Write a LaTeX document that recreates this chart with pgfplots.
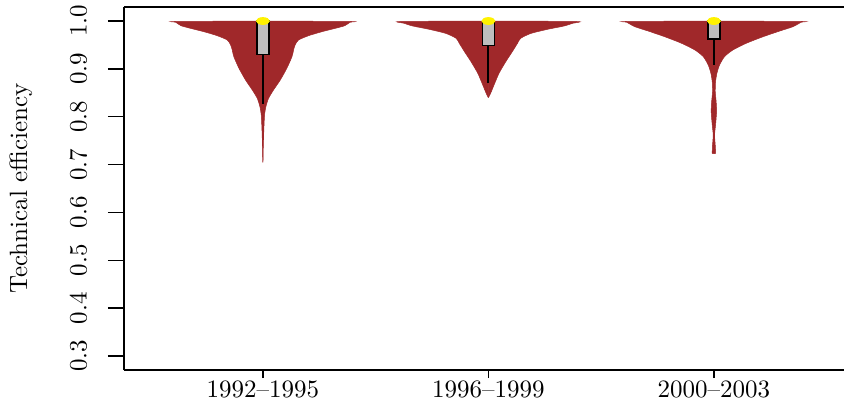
\documentclass[border=0pt]{standalone}
\usepackage{pgfplots}
\usepackage{pgfplotstable}
\pgfplotsset{compat=1.18}
\definecolor{vbrown}{RGB}{160,40,42}
\definecolor{boxgray}{RGB}{190,190,190}

% violin half-widths (in x units) as function of efficiency
\pgfplotstableread{
y hw
1.0000 0
0.9990 0.392
0.9973 0.386
0.9902 0.363
0.9847 0.321
0.9777 0.262
0.9694 0.203
0.9603 0.158
0.9499 0.143
0.9394 0.136
0.9255 0.129
0.9011 0.106
0.8767 0.077
0.8558 0.047
0.8384 0.025
0.8210 0.0133
0.8036 0.0074
0.7758 0.0044
0.7340 0.0015
0.7060 0.0003
0.7060 0
}\vA
\pgfplotstableread{
y hw
1.0000 0
0.9990 0.392
0.9952 0.373
0.9896 0.336
0.9826 0.262
0.9740 0.188
0.9638 0.143
0.9534 0.129
0.9359 0.106
0.9150 0.077
0.8907 0.047
0.8663 0.025
0.8490 0.010
0.8405 0.001
0.8405 0
}\vB
\pgfplotstableread{
y hw
1.0000 0
0.9990 0.392
0.9973 0.386
0.9880 0.350
0.9790 0.291
0.9670 0.217
0.9534 0.143
0.9394 0.084
0.9255 0.047
0.9080 0.025
0.8907 0.0133
0.8732 0.0074
0.8523 0.0060
0.8314 0.0100
0.8105 0.0120
0.7827 0.0074
0.7618 0.0030
0.7409 0.0060
0.7236 0.0074
0.7236 0
}\vC

\begin{document}
\begin{tikzpicture}
\pgfplotsset{
  common/.style={
    scale only axis,
    width=288pt, height=145.2pt,
    xmin=0.384, xmax=3.577,
    ymin=0.2707, ymax=1.0293,
    axis line style={line width=0.8pt},
    tick align=outside,
    tick style={line width=0.6pt, black},
  }
}
\begin{axis}[
  name=ax,
  common,
  axis x line*=bottom,
  axis y line*=left,
  major tick length=3.2pt,
  xtick={1,2,3},
  xticklabels={1992--1995,1996--1999,2000--2003},
  xticklabel style={yshift=2.4pt},
  ytick=\empty,
  clip=false,
]
% violins
\addplot[fill=vbrown, draw=vbrown, line width=0.2pt, smooth, tension=0.4] table[x expr=1-\thisrow{hw}, y=y] {\vA} -- cycle;
\addplot[fill=vbrown, draw=vbrown, line width=0.2pt, smooth, tension=0.4] table[x expr=1+\thisrow{hw}, y=y] {\vA} -- cycle;
\addplot[fill=vbrown, draw=vbrown, line width=0.2pt, smooth, tension=0.4] table[x expr=2-\thisrow{hw}, y=y] {\vB} -- cycle;
\addplot[fill=vbrown, draw=vbrown, line width=0.2pt, smooth, tension=0.4] table[x expr=2+\thisrow{hw}, y=y] {\vB} -- cycle;
\addplot[fill=vbrown, draw=vbrown, line width=0.2pt, smooth, tension=0.4] table[x expr=3-\thisrow{hw}, y=y] {\vC} -- cycle;
\addplot[fill=vbrown, draw=vbrown, line width=0.2pt, smooth, tension=0.4] table[x expr=3+\thisrow{hw}, y=y] {\vC} -- cycle;
% whiskers
\addplot[black, line width=0.8pt] coordinates {(1,0.930) (1,0.826)};
\addplot[black, line width=0.8pt] coordinates {(2,0.9484) (2,0.8714)};
\addplot[black, line width=0.8pt] coordinates {(3,0.9624) (3,0.908)};
% boxes
\addplot[fill=boxgray, draw=black, line width=0.6pt] coordinates {(0.973,0.930) (1.027,0.930) (1.027,1.0) (0.973,1.0)} -- cycle;
\addplot[fill=boxgray, draw=black, line width=0.6pt] coordinates {(1.973,0.9484) (2.027,0.9484) (2.027,1.0) (1.973,1.0)} -- cycle;
\addplot[fill=boxgray, draw=black, line width=0.6pt] coordinates {(2.973,0.9624) (3.027,0.9624) (3.027,1.0) (2.973,1.0)} -- cycle;
% medians
\addplot[only marks, mark=*, mark size=1.35pt, mark options={fill=yellow, draw=yellow, xscale=1.9}] coordinates {(1,1.0) (2,1.0) (3,1.0)};
\draw[line width=0.8pt] (rel axis cs:0,1) -- (rel axis cs:1,1);
\end{axis}
\begin{axis}[
  common,
  hide x axis,
  axis y line*=left,
  major tick length=6.4pt,
  ytick={0.3,0.4,0.5,0.6,0.7,0.8,0.9,1.0},
  yticklabels={0.3,0.4,0.5,0.6,0.7,0.8,0.9,1.0},
  yticklabel style={rotate=90, anchor=south},
  yticklabel shift=4.8pt,
  ylabel={Technical efficiency},
  every axis y label/.style={at={(axis description cs:0,0.5)}, xshift=-41.2pt, rotate=90, anchor=center},
]
\end{axis}
\pgfresetboundingbox
\path[use as bounding box] ([xshift=-49.6pt,yshift=-15.6pt]ax.south west) rectangle ([yshift=2.8pt]ax.north east);
\end{tikzpicture}
\end{document}
